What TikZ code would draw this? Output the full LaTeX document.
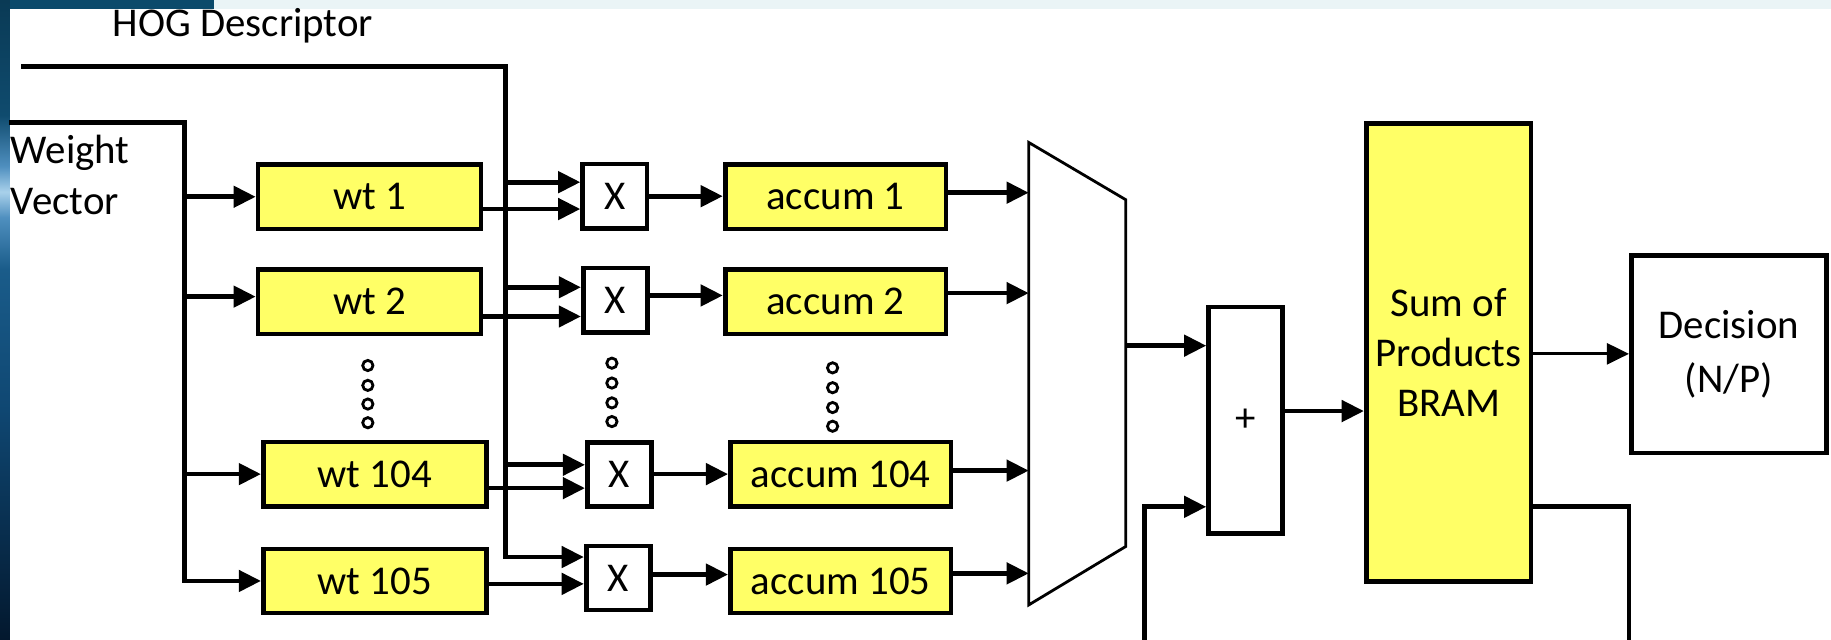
\documentclass[tikz,border=0pt]{standalone}
\usepackage{fontspec}
\setmainfont{Carlito}
\usetikzlibrary{arrows.meta}

\definecolor{boxyellow}{HTML}{FFFF66}
\definecolor{topstrip}{HTML}{EAF4F6}
\definecolor{topdark}{HTML}{0B4A6B}
\definecolor{striptop}{HTML}{0A3A55}
\definecolor{striptopb}{HTML}{0F4B6E}
\definecolor{stripglowb}{HTML}{4F8FBF}
\definecolor{stripglow}{HTML}{A9D1EB}
\definecolor{stripblue}{HTML}{1A5C8A}
\definecolor{stripmid}{HTML}{0F4772}
\definecolor{stripbot}{HTML}{03182E}

\pgfdeclareverticalshading{leftglow}{100bp}{%
  color(0bp)=(stripbot); color(25bp)=(stripbot); color(43bp)=(stripmid);
  color(54bp)=(stripblue); color(58bp)=(stripglowb); color(60bp)=(stripglow);
  color(62bp)=(stripglowb); color(66bp)=(striptopb); color(75bp)=(striptop);
  color(100bp)=(striptop)}

\newcommand\dfont{\fontsize{17.5pt}{22pt}\selectfont}

\tikzset{
  wire/.style={line width=2pt, line join=miter},
  arr/.style={wire, -{Triangle[length=9.5pt,width=9pt]}},
  thinarr/.style={line width=1.2pt, -{Triangle[length=9.5pt,width=9pt]}},
  basebox/.style={draw, line width=2pt, inner sep=0pt, font=\dfont, align=center},
  wtbox/.style={basebox, fill=boxyellow, minimum width=95.5pt, minimum height=27.5pt},
  accbox/.style={basebox, fill=boxyellow, minimum width=94.5pt, minimum height=27.5pt},
  xbox/.style={basebox, fill=white, minimum width=27.5pt, minimum height=27.5pt},
  muxline/.style={line width=1.2pt, line join=miter, fill=white},
  dotmark/.style={line width=1.2pt},
  lbl/.style={font=\dfont, inner sep=0pt}
}

\begin{document}
\begin{tikzpicture}[x=0.5pt, y=-0.5pt]
  % page background with the slide's edge decoration
  \fill[white] (0,0) rectangle (1568,548);
  \fill[topstrip] (0,0) rectangle (1568,8);
  \fill[topdark] (0,0) rectangle (183,8);
  \shade[shading=leftglow] (0,0) rectangle (8.5,548);
  \useasboundingbox (0,0) rectangle (1568,548);

  % input labels
  \node[lbl] (hoglbl) at (208,22) {HOG Descriptor};
  \node[lbl, anchor=west, align=left, font=\fontsize{17.5pt}{22pt}\selectfont] (wlbl) at (9,150) {Weight\\Vector};

  % weight registers
  \node[wtbox] (wt1)   at (316.5,168.5) {wt 1};
  \node[wtbox] (wt2)   at (316.5,258.5) {wt 2};
  \node[wtbox] (wt104) at (321,406)     {wt 104};
  \node[wtbox] (wt105) at (321,497.5)   {wt 105};

  % multipliers
  \node[xbox] (x1)   at (526.5,168) {X};
  \node[xbox] (x2)   at (527,257)   {X};
  \node[xbox] (x104) at (530.5,406.5) {X};
  \node[xbox] (x105) at (529.5,495) {X};

  % accumulators
  \node[accbox] (acc1)   at (715.5,168.5) {accum 1};
  \node[accbox] (acc2)   at (715.5,258.5) {accum 2};
  \node[accbox] (acc104) at (720,406)     {accum 104};
  \node[accbox] (acc105) at (720,497.5)   {accum 105};

  % multiplexer
  \coordinate (muxtl) at (881,122);
  \coordinate (muxtr) at (964,171);
  \coordinate (muxbr) at (964,468);
  \coordinate (muxbl) at (881,518);
  \draw[muxline] (muxtl) -- (muxtr) -- (muxbr) -- (muxbl) -- cycle;

  % adder, memory and decision
  \node[basebox, fill=white, minimum width=31.5pt, minimum height=97pt] (plus) at (1066.5,360) {+};
  \node[basebox, fill=boxyellow, minimum width=70.5pt, minimum height=196pt,
        font=\fontsize{17.5pt}{21.5pt}\selectfont] (bram) at (1240.5,302) {Sum of\\Products\\BRAM};
  \node[basebox, fill=white, minimum width=83.5pt, minimum height=84.5pt,
        font=\fontsize{17.5pt}{23pt}\selectfont] (dec) at (1480.5,303.5) {Decision\\(N/P)};

  % HOG descriptor bus
  \coordinate (hogstart) at (18,57);
  \coordinate (hogbus) at (433,57);
  \draw[arr] (hogstart) -- (hogbus) -- (hogbus |- 0,477) -- (x105.west |- 0,477);
  \draw[arr] (hogbus |- 0,156) -- (x1.west |- 0,156);
  \draw[arr] (hogbus |- 0,246) -- (x2.west |- 0,246);
  \draw[arr] (hogbus |- 0,398) -- (x104.west |- 0,398);

  % weight vector bus
  \coordinate (wstart) at (8,105);
  \coordinate (wbus) at (158,105);
  \draw[arr] (wstart) -- (wbus) |- (wt105.west);
  \draw[arr] (wbus |- wt1.west) -- (wt1.west);
  \draw[arr] (wbus |- 0,254) -- (wt2.west |- 0,254);
  \draw[arr] (wbus |- wt104.west) -- (wt104.west);

  % weights into multipliers
  \draw[arr] (wt1.east |- 0,179) -- (x1.west |- 0,179);
  \draw[arr] (wt2.east |- 0,271) -- (x2.west |- 0,271);
  \draw[arr] (wt104.east |- 0,418) -- (x104.west |- 0,418);
  \draw[arr] (wt105.east |- 0,500) -- (x105.west |- 0,500);

  % products into accumulators
  \draw[arr] (x1.east |- 0,168) -- (acc1.west |- 0,168);
  \draw[arr] (x2.east |- 0,253) -- (acc2.west |- 0,253);
  \draw[arr] (x104.east |- 0,406) -- (acc104.west |- 0,406);
  \draw[arr] (x105.east |- 0,492) -- (acc105.west |- 0,492);

  % accumulators into the multiplexer
  \draw[arr] (acc1.east |- 0,165) -- (muxtl |- 0,165);
  \draw[arr] (acc2.east |- 0,251) -- (muxtl |- 0,251);
  \draw[arr] (acc104.east |- 0,403) -- (muxtl |- 0,403);
  \draw[arr] (acc105.east |- 0,491) -- (muxtl |- 0,491);

  % multiplexer, adder and memory
  \draw[arr] (muxtr |- 0,296) -- (plus.west |- 0,296);
  \coordinate (fbstart) at (980,548);
  \draw[arr] (fbstart) |- (plus.west |- 0,434);
  \draw[arr] (plus.east |- 0,352) -- (bram.west |- 0,352);
  \draw[thinarr] (bram.east |- 0,303) -- (dec.west |- 0,303);
  \coordinate (bramout) at (1395,548);
  \draw[wire] (bram.east |- 0,434) -| (bramout);

  % ellipsis dots between rows
  \foreach \y in {313,330,346,362} \draw[dotmark] (315,\y) circle[radius=2.2pt];
  \foreach \y in {311,328,345,361} \draw[dotmark] (524,\y) circle[radius=2.2pt];
  \foreach \y in {315,332,349,365} \draw[dotmark] (713,\y) circle[radius=2.2pt];
\end{tikzpicture}
\end{document}
